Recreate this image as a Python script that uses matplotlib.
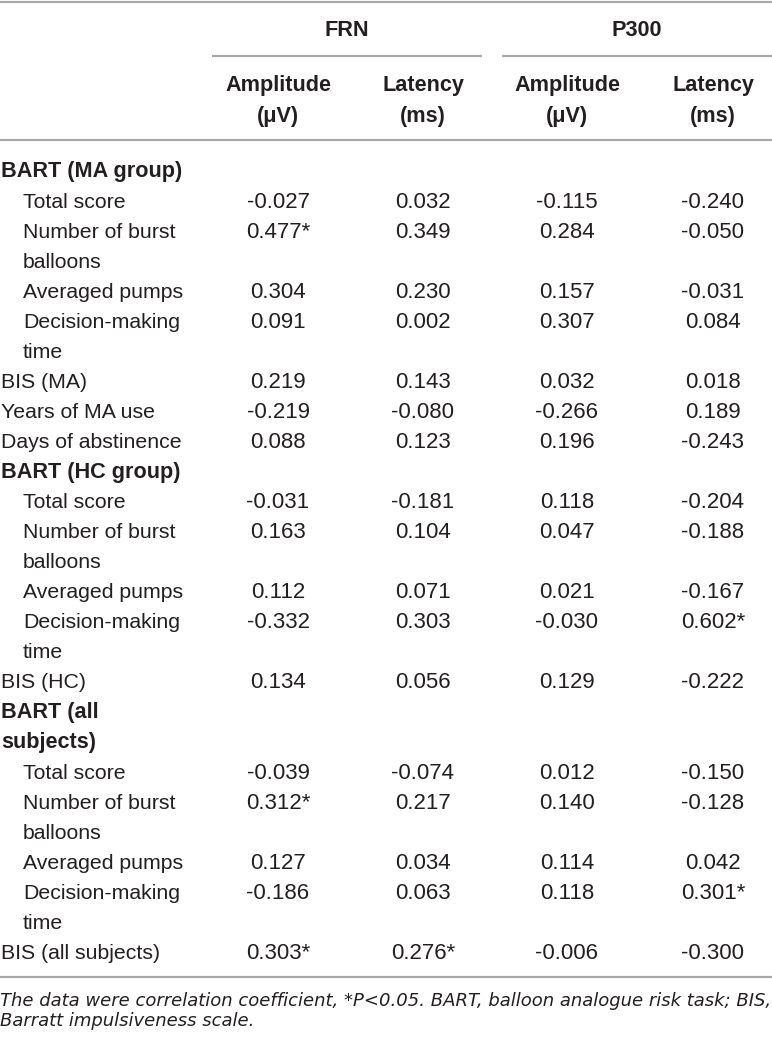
import matplotlib
matplotlib.use('Agg')
import matplotlib.pyplot as plt

plt.rcParams['font.family'] = ['Liberation Sans', 'DejaVu Sans']

# table content
groups = ['FRN', 'P300']
col_heads = ['Amplitude\n(\u03bcV)', 'Latency\n(ms)', 'Amplitude\n(\u03bcV)', 'Latency\n(ms)']

row_labels = ['BART (MA group)', 'Total score', 'Number of burst\nballoons', 'Averaged pumps',
              'Decision-making\ntime', 'BIS (MA)', 'Years of MA use', 'Days of abstinence',
              'BART (HC group)', 'Total score', 'Number of burst\nballoons', 'Averaged pumps',
              'Decision-making\ntime', 'BIS (HC)',
              'BART (all\nsubjects)', 'Total score', 'Number of burst\nballoons', 'Averaged pumps',
              'Decision-making\ntime', 'BIS (all subjects)']
row_kind = ['head', 'sub', 'sub', 'sub', 'sub', 'main', 'main', 'main',
            'head', 'sub', 'sub', 'sub', 'sub', 'main',
            'head', 'sub', 'sub', 'sub', 'sub', 'main']

frn_amp = ['', '-0.027', '0.477*', '0.304', '0.091', '0.219', '-0.219', '0.088',
           '', '-0.031', '0.163', '0.112', '-0.332', '0.134',
           '', '-0.039', '0.312*', '0.127', '-0.186', '0.303*']
frn_lat = ['', '0.032', '0.349', '0.230', '0.002', '0.143', '-0.080', '0.123',
           '', '-0.181', '0.104', '0.071', '0.303', '0.056',
           '', '-0.074', '0.217', '0.034', '0.063', '0.276*']
p300_amp = ['', '-0.115', '0.284', '0.157', '0.307', '0.032', '-0.266', '0.196',
            '', '0.118', '0.047', '0.021', '-0.030', '0.129',
            '', '0.012', '0.140', '0.114', '0.118', '-0.006']
p300_lat = ['', '-0.240', '-0.050', '-0.031', '0.084', '0.018', '0.189', '-0.243',
            '', '-0.204', '-0.188', '-0.167', '0.602*', '-0.222',
            '', '-0.150', '-0.128', '0.042', '0.301*', '-0.300']

footnote = ('The data were correlation coefficient, *P<0.05. BART, balloon analogue risk task; BIS,\n'
            'Barratt impulsiveness scale.')

W, H = 772, 1038
fig = plt.figure(figsize=(W / 100, H / 100), dpi=100)
ax = fig.add_axes([0, 0, 1, 1])
ax.set_xlim(0, W)
ax.set_ylim(H, 0)
ax.axis('off')

txt = '#231f20'
rule = '#a7a9ac'
fs = 15.3
fs_bold = 15.6
fs_num = 16
step = 30.05

col_x = [278, 423, 567, 713]
group_span = [(212, 482), (502, 772)]

# rules
ax.hlines([2, 140, 977], 0, W, color=rule, lw=1.6)
for (a, b) in group_span:
    ax.hlines(56, a, b, color=rule, lw=1.6)

# header
for name, (a, b) in zip(groups, group_span):
    ax.text((a + b) / 2, 31, name, ha='center', va='center', fontsize=fs_bold,
            fontweight='bold', color=txt)
for x, h in zip(col_x, col_heads):
    ax.text(x, 101, h, ha='center', va='center', fontsize=fs_bold, fontweight='bold',
            color=txt, linespacing=1.62)

# body
y = 172
cols = [frn_amp, frn_lat, p300_amp, p300_lat]
for i, lab in enumerate(row_labels):
    kind = row_kind[i]
    indent = 23 if kind == 'sub' else 1
    lines = lab.split('\n')
    for k, line in enumerate(lines):
        if kind == 'head':
            ax.text(indent, y + k * step, line, ha='left', va='center', fontsize=fs_bold,
                    fontweight='bold', color=txt)
        else:
            ax.text(indent, y + k * step, line, ha='left', va='center', fontsize=fs,
                    color=txt)
    for x, c in zip(col_x, cols):
        if c[i]:
            ax.text(x, y, c[i], ha='center', va='center', fontsize=fs_num, color=txt)
    y += step * len(lines)

ax.text(0, 1011, footnote, ha='left', va='center', fontsize=13, style='italic',
        family=['DejaVu Sans'], color=txt, linespacing=1.15)

fig.savefig('out.png', dpi=100)
